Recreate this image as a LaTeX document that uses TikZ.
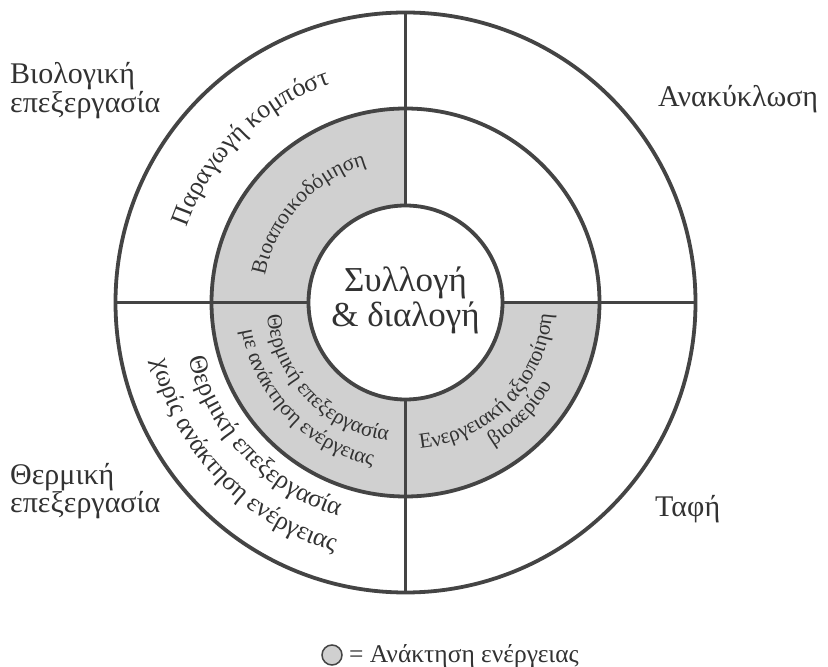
\documentclass[tikz,border=0pt]{standalone}
\usepackage{fontspec}
\setmainfont{Liberation Serif}
\usetikzlibrary{decorations.text,calc}
\definecolor{linec}{RGB}{68,68,68}
\definecolor{fillc}{RGB}{208,208,208}
\definecolor{txtc}{RGB}{50,50,50}
\begin{document}
\begin{tikzpicture}[x=1pt,y=1pt,
  ring/.style={draw=linec, line width=3.8pt},
  lbl/.style={text=txtc, inner sep=0pt, font=\fontsize{30}{34}\selectfont},
  ctr/.style={text=txtc, inner sep=0pt, font=\fontsize{35}{39}\selectfont},
  legc/.style={draw=linec, fill=fillc, circle, minimum size=20pt, inner sep=0pt, line width=1.5pt}]
\useasboundingbox (0,0) rectangle (828,667);
\coordinate (C) at (405.5,364.5);
% shaded sectors of the middle ring
\fill[fillc] ($(C)+(90:194)$) arc[start angle=90,end angle=360,radius=194]
  -- ($(C)+(0:97)$) arc[start angle=0,end angle=-270,radius=97] -- cycle;
% dividing lines
\coordinate (n1) at ($(C)+(90:97)$);  \coordinate (n3) at ($(C)+(90:290)$);
\coordinate (s1) at ($(C)+(270:97)$); \coordinate (s3) at ($(C)+(270:290)$);
\coordinate (w1) at ($(C)+(180:97)$); \coordinate (w3) at ($(C)+(180:290)$);
\coordinate (e1) at ($(C)+(0:97)$);   \coordinate (e3) at ($(C)+(0:290)$);
\draw[ring] (n1) -- (n3);
\draw[ring] (s1) -- (s3);
\draw[ring] (w1) -- (w3);
\draw[ring] (e1) -- (e3);
% circles
\draw[ring] (C) circle[radius=290];
\draw[ring] (C) circle[radius=194];
\draw[ring] (C) circle[radius=97];
% curved texts, top-left (clockwise, tops outward)
\path[decorate, decoration={text along path, text align=center, text color=txtc,
  text={|\fontsize{26}{30}\selectfont|Παραγωγή κομπόστ}}]
  ($(C)+(180:231)$) arc[start angle=180,end angle=90,radius=231];
\path[decorate, decoration={text along path, text align=center, text color=txtc,
  text={|\fontsize{21.5}{25}\selectfont|Βιοαποικοδόμηση}}]
  ($(C)+(182.4:143)$) arc[start angle=182.4,end angle=92.4,radius=143];
% bottom-left, middle ring (counterclockwise, tops inward)
\path[decorate, decoration={text along path, text align=center, text color=txtc,
  text={|\fontsize{21.5}{25}\selectfont|Θερμική επεξεργασία}}]
  ($(C)+(179:139)$) arc[start angle=179,end angle=269,radius=139];
\path[decorate, decoration={text along path, text align=center, text color=txtc,
  text={|\fontsize{21.5}{25}\selectfont|με ανάκτηση ενέργειας}}]
  ($(C)+(179:166)$) arc[start angle=179,end angle=269,radius=166];
% bottom-left, outer ring
\path[decorate, decoration={text along path, text align=center, text color=txtc,
  text={|\fontsize{26}{30}\selectfont|Θερμική επεξεργασία}}]
  ($(C)+(178.5:224)$) arc[start angle=178.5,end angle=268.5,radius=224];
\path[decorate, decoration={text along path, text align=center, text color=txtc,
  text={|\fontsize{26}{30}\selectfont|χωρίς ανάκτηση ενέργειας}}]
  ($(C)+(178.5:259)$) arc[start angle=178.5,end angle=268.5,radius=259];
% bottom-right, middle ring
\path[decorate, decoration={text along path, text align=center, text color=txtc,
  text={|\fontsize{21.5}{25}\selectfont|Ενεργειακή αξιοποίηση}}]
  ($(C)+(270.5:147)$) arc[start angle=270.5,end angle=360.5,radius=147];
\path[decorate, decoration={text along path, text align=center, text color=txtc,
  text={|\fontsize{21.5}{25}\selectfont|βιοαερίου}}]
  ($(C)+(271:168)$) arc[start angle=271,end angle=361,radius=168];
% outside labels
\node[lbl, anchor=base west] (bio1) at (10,583) {Βιολογική};
\node[lbl, anchor=base west] (bio2) at (10,554) {επεξεργασία};
\node[lbl, anchor=base west] (ther1) at (10,182) {Θερμική};
\node[lbl, anchor=base west] (ther2) at (10,154) {επεξεργασία};
\node[lbl, anchor=base west] (anak) at (658,560) {Ανακύκλωση};
\node[lbl, anchor=base west] (tafi) at (655,150) {Ταφή};
% centre
\node[ctr, anchor=base] (syl1) at (405.5,375) {Συλλογή};
\node[ctr, anchor=base] (syl2) at (405.5,340) {\& διαλογή};
% legend
\node[legc] (leg) at (332,12) {};
\node[lbl, anchor=base west, font=\fontsize{25.5}{29}\selectfont] (legt) at (349,4) {= Ανάκτηση ενέργειας};
\end{tikzpicture}
\end{document}
